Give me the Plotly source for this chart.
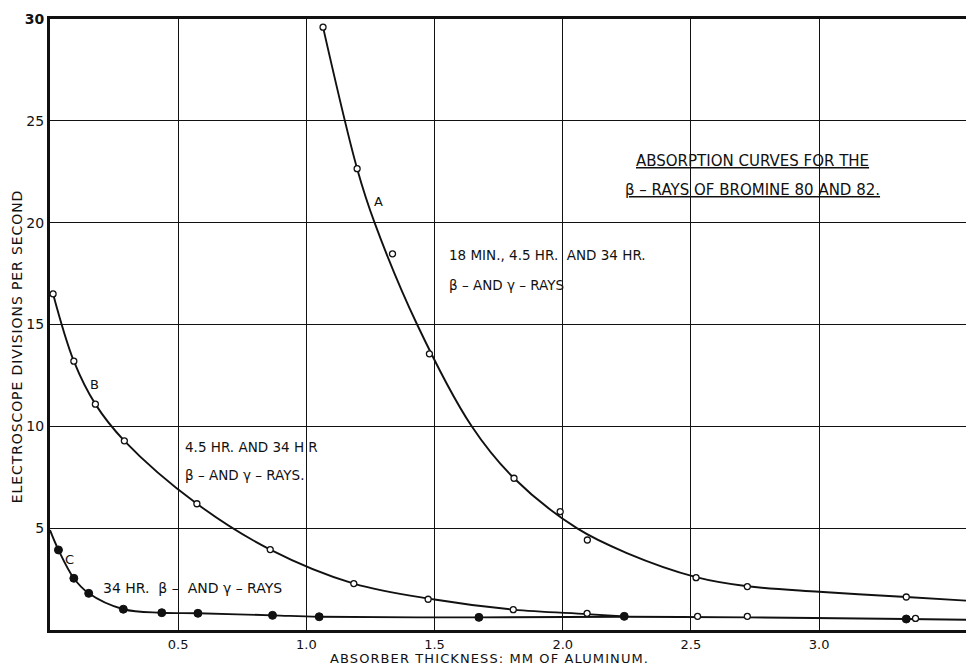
import plotly.graph_objects as go

# ---- measured points (open circles: A, B; filled: C) ----
a_x = [1.065, 1.198, 1.336, 1.48, 1.81, 1.99, 2.096, 2.52, 2.72, 3.34]
a_y = [29.6, 22.65, 18.47, 13.56, 7.45, 5.81, 4.42, 2.57, 2.13, 1.62]

b_x = [0.012, 0.093, 0.177, 0.29, 0.573, 0.859, 1.185, 1.475, 1.807, 2.095, 2.526, 2.72, 3.376]
b_y = [16.5, 13.2, 11.09, 9.29, 6.2, 3.95, 2.28, 1.51, 1.0, 0.82, 0.67, 0.67, 0.57]

c_x = [0.033, 0.093, 0.151, 0.286, 0.436, 0.577, 0.868, 1.05, 1.673, 2.24, 3.34]
c_y = [3.93, 2.54, 1.8, 1.02, 0.85, 0.82, 0.72, 0.65, 0.62, 0.67, 0.54]

# ---- smooth drawn curves ----
ca_x = [1.065, 1.198, 1.266, 1.432, 1.645, 1.81, 2.055, 2.25, 2.52, 2.72, 3.0, 3.34, 3.573]
ca_y = [29.6, 22.65, 20.0, 15.0, 10.0, 7.45, 5.0, 3.78, 2.6, 2.15, 1.88, 1.62, 1.44]

cb_x = [0.012, 0.093, 0.177, 0.29, 0.573, 0.859, 1.185, 1.5, 1.807, 2.095, 2.24]
cb_y = [16.5, 13.2, 11.09, 9.29, 6.2, 3.95, 2.28, 1.5, 1.0, 0.78, 0.66]

cc_x = [0.0, 0.033, 0.093, 0.151, 0.286, 0.436, 0.577, 0.868, 1.05, 1.673, 2.24, 2.72, 3.34, 3.573]
cc_y = [4.9, 3.93, 2.54, 1.8, 1.02, 0.85, 0.82, 0.72, 0.65, 0.62, 0.65, 0.62, 0.54, 0.5]

x_ticks = [0.5, 1.0, 1.5, 2.0, 2.5, 3.0]
x_ticklabels = ["0.5", "1.0", "1.5", "2.0", "2.5", "3.0"]
y_ticks = [5, 10, 15, 20, 25, 30]
y_ticklabels = ["5", "10", "15", "20", "25", "<b>30</b>"]

FONT = "DejaVu Sans"
INK = "#111111"

fig = go.Figure()
for cx, cy in [(ca_x, ca_y), (cb_x, cb_y), (cc_x, cc_y)]:
    fig.add_trace(go.Scatter(x=cx, y=cy, mode="lines",
                             line=dict(color=INK, width=1.9, shape="spline", smoothing=1.0),
                             hoverinfo="skip", showlegend=False))

fig.add_trace(go.Scatter(x=a_x, y=a_y, mode="markers", showlegend=False,
                         marker=dict(symbol="circle", size=6, color="white",
                                     line=dict(color=INK, width=1.3))))
fig.add_trace(go.Scatter(x=b_x, y=b_y, mode="markers", showlegend=False,
                         marker=dict(symbol="circle", size=6, color="white",
                                     line=dict(color=INK, width=1.3))))
fig.add_trace(go.Scatter(x=c_x, y=c_y, mode="markers", showlegend=False,
                         marker=dict(symbol="circle", size=8, color=INK,
                                     line=dict(color=INK, width=1))))

ann = [
    dict(x=1.28, y=21.05, text="A", xanchor="center", size=13),
    dict(x=1.55, y=18.4, text="18 MIN., 4.5 HR.  AND 34 HR.", xanchor="left", size=13.5),
    dict(x=1.55, y=16.95, text="β – AND γ – RAYS", xanchor="left", size=13.5),
    dict(x=0.173, y=12.07, text="B", xanchor="center", size=13),
    dict(x=0.52, y=9.0, text="4.5 HR. AND 34 H R", xanchor="left", size=13.5),
    dict(x=0.52, y=7.6, text="β – AND γ – RAYS.", xanchor="left", size=13.5),
    dict(x=0.075, y=3.47, text="C", xanchor="center", size=13),
    dict(x=0.2, y=2.05, text="34 HR.  β –  AND γ – RAYS", xanchor="left", size=14),
    dict(x=2.74, y=23.05, text="<u>ABSORPTION CURVES FOR THE</u>", xanchor="center", size=15),
    dict(x=2.74, y=21.6, text="<u>β – RAYS OF BROMINE 80 AND 82.</u>", xanchor="center", size=15),
]
for a in ann:
    fig.add_annotation(x=a["x"], y=a["y"], text=a["text"], xanchor=a["xanchor"],
                       yanchor="middle", showarrow=False,
                       font=dict(family=FONT, size=a["size"], color=INK))

fig.add_annotation(xref="paper", yref="paper", x=0.48, y=-0.047,
                   text="<span style='letter-spacing:1.1px'>ABSORBER THICKNESS: MM OF ALUMINUM.</span>",
                   showarrow=False, xanchor="center", yanchor="middle",
                   font=dict(family=FONT, size=13, color=INK))
fig.add_annotation(xref="paper", yref="paper", x=-0.036, y=0.463,
                   text="<span style='letter-spacing:0.9px'>ELECTROSCOPE DIVISIONS PER SECOND</span>",
                   showarrow=False, textangle=-90, xanchor="center", yanchor="middle",
                   font=dict(family=FONT, size=14, color=INK))

fig.update_layout(
    width=966, height=667,
    margin=dict(l=50, r=0, t=19, b=37),
    paper_bgcolor="white", plot_bgcolor="white",
    font=dict(family=FONT, size=14, color=INK),
    xaxis=dict(range=[0, 3.573], tickvals=x_ticks, ticktext=x_ticklabels,
               showgrid=True, gridcolor=INK, gridwidth=1.3,
               showline=True, linecolor=INK, linewidth=3, mirror=True,
               ticks="", zeroline=False, tickfont=dict(size=13)),
    yaxis=dict(range=[0, 30], tickvals=y_ticks, ticktext=y_ticklabels,
               showgrid=True, gridcolor=INK, gridwidth=1.3,
               showline=True, linecolor=INK, linewidth=3,
               ticks="", zeroline=False, tickfont=dict(size=14)),
)

fig.write_html("out.html")
